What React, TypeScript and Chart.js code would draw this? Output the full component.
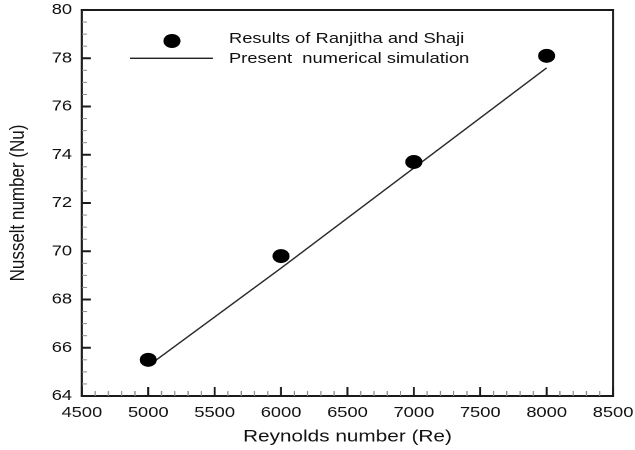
import React, { useEffect, useRef } from 'react';
import { Chart, registerables } from 'chart.js';

Chart.register(...registerables);

// ---- data ----
const reynolds = [5000, 6000, 7000, 8000];
const nusseltExperiment = [65.5, 69.8, 73.7, 78.1];
const nusseltSimulation = [65.25, 69.3, 73.45, 77.6];

const xMin = 4500;
const xMax = 8500;
const xStep = 500;
const xMinorStep = 100;
const yMin = 64;
const yMax = 80;
const yStep = 2;
const yMinorStep = 0.5;

const legendLabels = ['Results of Ranjitha and Shaji', 'Present  numerical simulation'];
const xTitle = 'Reynolds number (Re)';
const yTitle = 'Nusselt number (Nu)';

// the original figure is stretched horizontally: the chart is laid out at
// BASE_W wide and the canvas bitmap is displayed 635 px wide.
const BASE_W = 520;
const BASE_H = 450;
const PAGE_W = 635;
const FONT = "'Liberation Sans', Arial, Helvetica, sans-serif";

const framePlugin = {
  id: 'frameTicks',
  afterDraw(chart: any) {
    const { ctx, chartArea: a, scales } = chart;
    const x = scales.x;
    const y = scales.y;
    const w = a.right - a.left;
    const h = a.bottom - a.top;
    ctx.save();
    // frame
    ctx.fillStyle = '#1a1a1a';
    ctx.fillRect(a.left - 1, a.top - 1, w + 2, 2);
    ctx.fillRect(a.left - 1, a.bottom - 1, w + 2, 2);
    ctx.fillRect(a.left - 0.9, a.top - 1, 1.8, h + 2);
    ctx.fillRect(a.right - 0.9, a.top - 1, 1.8, h + 2);
    const isMajor = (v: number, step: number) => Math.abs(v / step - Math.round(v / step)) < 1e-6;
    // minor ticks
    ctx.fillStyle = '#8a8a8a';
    for (let i = 0; xMin + i * xMinorStep <= xMax + 1e-9; i++) {
      const v = xMin + i * xMinorStep;
      if (isMajor(v, xStep)) continue;
      const px = x.getPixelForValue(v);
      ctx.fillRect(px - 0.5, a.bottom - 5, 1, 5);
    }
    for (let i = 0; yMin + i * yMinorStep <= yMax + 1e-9; i++) {
      const v = yMin + i * yMinorStep;
      if (isMajor(v, yStep)) continue;
      const py = y.getPixelForValue(v);
      ctx.fillRect(a.left, py - 0.5, 4.2, 1);
    }
    // major ticks
    ctx.fillStyle = '#1a1a1a';
    for (let i = 0; xMin + i * xStep <= xMax + 1e-9; i++) {
      const px = x.getPixelForValue(xMin + i * xStep);
      ctx.fillRect(px - 0.8, a.bottom - 9, 1.6, 9);
    }
    for (let i = 0; yMin + i * yStep <= yMax + 1e-9; i++) {
      const py = y.getPixelForValue(yMin + i * yStep);
      ctx.fillRect(a.left, py - 1, 7.4, 2);
    }
    ctx.restore();
  },
};

const legendPlugin = {
  id: 'figLegend',
  afterDraw(chart: any) {
    const { ctx, chartArea: a } = chart;
    ctx.save();
    ctx.fillStyle = '#000';
    ctx.beginPath();
    ctx.arc(a.left + 73.8, a.top + 31, 7, 0, Math.PI * 2);
    ctx.fill();
    ctx.fillStyle = '#222';
    ctx.fillRect(a.left + 39.5, a.top + 47.6, 67.9, 1.4);
    ctx.fillStyle = '#111';
    ctx.font = `15px ${FONT}`;
    ctx.textAlign = 'left';
    ctx.textBaseline = 'middle';
    ctx.fillText(legendLabels[0], a.left + 120.5, a.top + 29);
    ctx.fillText(legendLabels[1], a.left + 120.5, a.top + 49);
    ctx.restore();
  },
};

const zeroPad = (s: any) => {
  s.paddingTop = 0;
  s.paddingBottom = 0;
  s.paddingLeft = 0;
  s.paddingRight = 0;
};

export default function App() {
  const canvasRef = useRef<HTMLCanvasElement | null>(null);

  useEffect(() => {
    const canvas = canvasRef.current;
    if (!canvas) return;
    canvas.width = BASE_W;
    canvas.height = BASE_H;
    canvas.style.width = `${PAGE_W}px`;
    canvas.style.height = `${BASE_H}px`;
    const chart = new Chart(canvas, {
      type: 'scatter',
      data: {
        datasets: [
          {
            label: legendLabels[0],
            data: reynolds.map((r, i) => ({ x: r, y: nusseltExperiment[i] })),
            backgroundColor: '#000',
            borderColor: '#000',
            pointRadius: 6.5,
          },
          {
            type: 'line',
            label: legendLabels[1],
            data: reynolds.map((r, i) => ({ x: r, y: nusseltSimulation[i] })),
            borderColor: '#2a2a2a',
            borderWidth: 1.3,
            pointRadius: 0,
            fill: false,
            tension: 0,
          } as any,
        ],
      },
      options: {
        animation: false,
        responsive: false,
        devicePixelRatio: 2,
        layout: { padding: { top: 10, right: 18, left: 0, bottom: 0 } },
        plugins: {
          legend: { display: false },
          tooltip: { enabled: false },
        },
        scales: {
          x: {
            type: 'linear',
            min: xMin,
            max: xMax,
            grid: { display: false, drawTicks: false, tickLength: 0 },
            border: { display: false },
            ticks: {
              stepSize: xStep,
              autoSkip: false,
              maxRotation: 0,
              padding: 8,
              color: '#111',
              font: { family: FONT, size: 15 },
              callback: (v: any) => String(v),
            },
            title: {
              display: true,
              text: xTitle,
              color: '#111',
              font: { family: FONT, size: 17 },
              padding: { top: 3, bottom: 3 },
            },
            afterFit: (s: any) => {
              s.height = 54;
              zeroPad(s);
            },
          },
          y: {
            type: 'linear',
            min: yMin,
            max: yMax,
            grid: { display: false, drawTicks: false, tickLength: 0 },
            border: { display: false },
            ticks: {
              stepSize: yStep,
              padding: 8,
              color: '#111',
              font: { family: FONT, size: 15 },
              callback: (v: any) => String(v),
            },
            title: {
              display: true,
              text: yTitle,
              color: '#111',
              font: { family: FONT, size: 17 },
              padding: { top: 4.5, bottom: 4.5 },
            },
            afterFit: (s: any) => {
              s.width = 67;
              zeroPad(s);
            },
          },
        },
      },
      plugins: [framePlugin, legendPlugin],
    });
    return () => chart.destroy();
  }, []);

  return (
    <div style={{ position: 'fixed', left: 0, top: 0, width: PAGE_W, height: BASE_H, background: '#fff' }}>
      <canvas ref={canvasRef} style={{ display: 'block', width: PAGE_W, height: BASE_H }} />
    </div>
  );
}
